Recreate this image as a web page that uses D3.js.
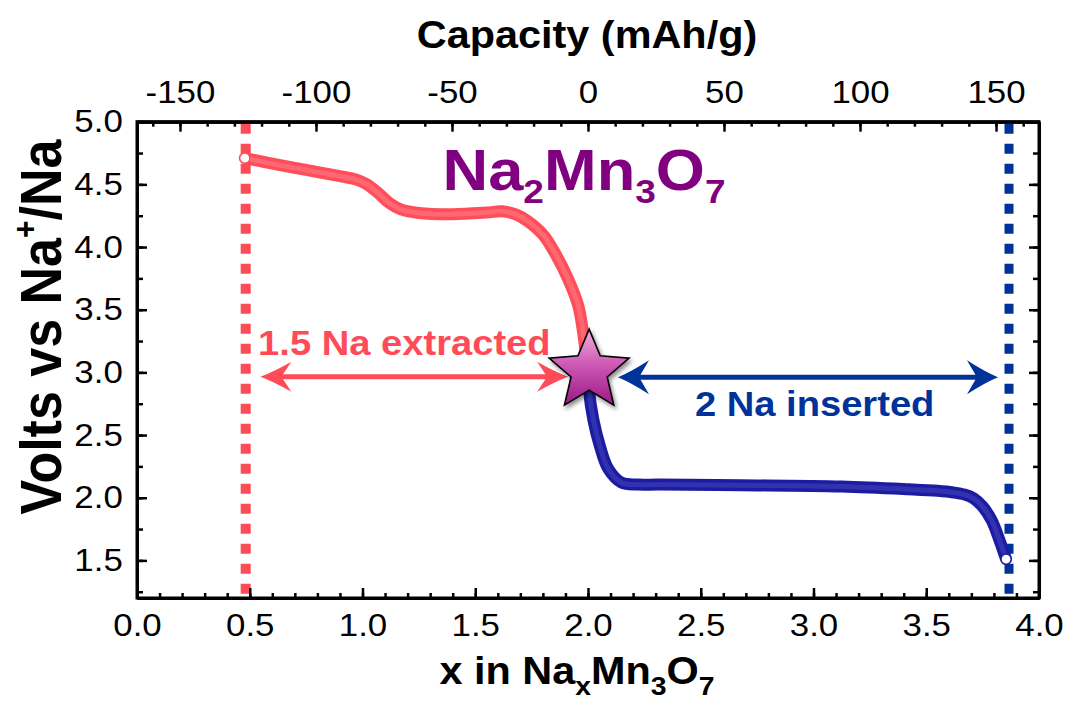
<!DOCTYPE html>
<html><head><meta charset="utf-8">
<script src="https://cdn.jsdelivr.net/npm/d3@7"></script>
<style>
body{margin:0;background:#fff;}
svg{display:block;font-family:"Liberation Sans",Arial,Helvetica,sans-serif;}
</style></head><body>
<svg id="chart" width="1066" height="702"></svg>
<script>
// ---------------- data ----------------
const chargeX = [0.478,0.6,0.75,0.9,0.97,1.02,1.07,1.12,1.17,1.25,1.4,1.55,1.62,1.68,1.73,1.8,1.854,1.913,1.957,1.979,1.992,2.0];
const chargeV = [4.71,4.665,4.615,4.565,4.54,4.50,4.43,4.35,4.30,4.272,4.262,4.275,4.285,4.26,4.21,4.10,3.95,3.74,3.53,3.31,3.12,3.0];
const dischargeX = [2.0,2.004,2.024,2.053,2.09,2.149,2.22,2.312,2.681,3.125,3.42,3.55,3.62,3.67,3.71,3.75,3.79,3.825,3.854];
const dischargeV = [3.0,2.86,2.62,2.41,2.23,2.12,2.105,2.105,2.10,2.09,2.068,2.055,2.042,2.025,1.995,1.93,1.82,1.66,1.51];

const xTickValues = [0,0.5,1,1.5,2,2.5,3,3.5,4];
const xTickLabels = ["0.0","0.5","1.0","1.5","2.0","2.5","3.0","3.5","4.0"];
const yTickValues = [1.5,2,2.5,3,3.5,4,4.5,5];
const yTickLabels = ["1.5","2.0","2.5","3.0","3.5","4.0","4.5","5.0"];
const capTickValues = [-150,-100,-50,0,50,100,150];
const capTickLabels = ["-150","-100","-50","0","50","100","150"];
const capPerNa = 82.9;           // mAh/g per Na (top axis: capacity = (x-2)*capPerNa)
const startLineX = 0.482;        // dotted limit (charge)
const endLineX = 3.867;          // dotted limit (discharge)
const starPoint = [2.005, 3.01];
const extractedArrow = [0.547, 1.912, 2.965];
const insertedArrow = [2.133, 3.818, 2.962];

// ---------------- layout ----------------
const L = 137, R = 1039, T = 121.7, B = 598;
const SX = 1.09; // horizontal text stretch of the original
const svg = d3.select("#chart");

const x = d3.scaleLinear([0,4],[L,R]);
const cap = d3.scaleLinear([-2*capPerNa, 2*capPerNa],[L,R]);
const y = d3.scaleLinear([1.2,5.0],[B,T]);

const RED = "#ff4a57", BLUE = "#003399", PURPLE = "#800080";

// defs
const defs = svg.append("defs");
const grad = defs.append("linearGradient").attr("id","starGrad").attr("x1",0).attr("y1",0).attr("x2",0).attr("y2",1);
grad.append("stop").attr("offset","0%").attr("stop-color","#f2b0e0");
grad.append("stop").attr("offset","45%").attr("stop-color","#cf5bb5");
grad.append("stop").attr("offset","100%").attr("stop-color","#9a1888");
const filt = defs.append("filter").attr("id","shadow").attr("x","-30%").attr("y","-30%").attr("width","160%").attr("height","160%");
filt.append("feDropShadow").attr("dx",2).attr("dy",3).attr("stdDeviation",2).attr("flood-color","#000").attr("flood-opacity",0.45);

// dotted limit lines
svg.append("line").attr("x1",x(startLineX)).attr("x2",x(startLineX)).attr("y1",y(5.0)).attr("y2",y(1.2))
  .attr("stroke",RED).attr("stroke-width",10).attr("stroke-dasharray","10,10").attr("stroke-dashoffset",-2);
svg.append("line").attr("x1",x(endLineX)).attr("x2",x(endLineX)).attr("y1",y(5.0)).attr("y2",y(1.2))
  .attr("stroke",BLUE).attr("stroke-width",9).attr("stroke-dasharray","10,10").attr("stroke-dashoffset",-2);

// curves
const line = d3.line().x(d=>x(d[0])).y(d=>y(d[1])).curve(d3.curveCatmullRom.alpha(0.5));
const charge = chargeX.map((v,i)=>[v,chargeV[i]]);
const discharge = dischargeX.map((v,i)=>[v,dischargeV[i]]);
function band(data, outer, inner){
  svg.append("path").datum(data).attr("d",line).attr("fill","none")
    .attr("stroke",outer).attr("stroke-width",12).attr("stroke-linecap","round").attr("stroke-linejoin","round");
  svg.append("path").datum(data).attr("d",line).attr("fill","none")
    .attr("stroke",inner).attr("stroke-width",5).attr("stroke-opacity",0.55).attr("stroke-linecap","round");
}
band(charge, "#ff4d5a", "#ff7d86");
band(discharge, "#1c1ca2", "#4545bb");

// endpoint markers
svg.append("circle").attr("cx",x(charge[0][0])).attr("cy",y(charge[0][1])).attr("r",5)
  .attr("fill","#fff").attr("stroke","#ff4d5a").attr("stroke-width",1.2);
const lastD = discharge[discharge.length-1];
svg.append("circle").attr("cx",x(lastD[0])).attr("cy",y(lastD[1])).attr("r",5)
  .attr("fill","#fff").attr("stroke","#1c1ca2").attr("stroke-width",1.2);

// double arrows
function headPath(tx, ty, dir, len, hw){
  const p = d3.path();
  p.moveTo(tx,ty);
  p.quadraticCurveTo(tx - dir*len*0.45, ty - hw*0.35, tx - dir*len, ty - hw);
  p.lineTo(tx - dir*len*0.68, ty);
  p.lineTo(tx - dir*len, ty + hw);
  p.quadraticCurveTo(tx - dir*len*0.45, ty + hw*0.35, tx, ty);
  p.closePath();
  return p.toString();
}
function doubleArrow(a, color, hw){
  const x1 = x(a[0]), x2 = x(a[1]), yy = y(a[2]);
  svg.append("line").attr("x1",x1+12).attr("x2",x2-12).attr("y1",yy).attr("y2",yy)
    .attr("stroke",color).attr("stroke-width",5);
  svg.append("path").attr("d",headPath(x1,yy,-1,31,hw)).attr("fill",color);
  svg.append("path").attr("d",headPath(x2,yy,1,31,hw)).attr("fill",color);
}
doubleArrow(extractedArrow, RED, 15);
doubleArrow(insertedArrow, BLUE, 17);

// stretched text helper
function stext(px, py, anchor, size, color, weight){
  const g = svg.append("g").attr("transform",`translate(${px},${py}) scale(${SX},1)`);
  return g.append("text").attr("text-anchor",anchor).attr("font-size",size)
    .attr("font-weight",weight||"bold").attr("fill",color);
}

// annotations
stext(x(0.537), y(3.14), "start", 35, RED).text("1.5 Na extracted");
stext(x(2.474), y(2.65), "start", 35, BLUE).text("2 Na inserted");
const title = stext(x(1.355), y(4.455), "start", 58, PURPLE);
title.append("tspan").text("Na");
title.append("tspan").attr("font-size",34).attr("dy",13).text("2");
title.append("tspan").attr("dy",-13).text("Mn");
title.append("tspan").attr("font-size",34).attr("dy",13).text("3");
title.append("tspan").attr("dy",-13).text("O");
title.append("tspan").attr("font-size",34).attr("dy",13).text("7");

// star
const starPts = d3.range(10).map(i=>[i*Math.PI/5, i%2===0 ? 42 : 19]);
svg.append("path")
  .attr("d", d3.lineRadial().curve(d3.curveLinearClosed)(starPts))
  .attr("transform",`translate(${x(starPoint[0])},${y(starPoint[1])})`)
  .attr("fill","url(#starGrad)").attr("stroke","#000").attr("stroke-width",1.6)
  .attr("stroke-linejoin","miter").attr("filter","url(#shadow)");

// ---------------- axes ----------------
function styleAxis(g, labels){
  g.select(".domain").attr("stroke","#000").attr("stroke-width",3);
  g.selectAll(".tick line").attr("stroke","#000").attr("stroke-width",2.5);
  g.selectAll(".tick text").attr("fill","#000").attr("font-size",32)
    .attr("font-family",'"Liberation Sans",Arial,Helvetica,sans-serif');
  if(labels) g.selectAll(".tick text").attr("transform",`scale(${SX},1)`);
}
const minorX = d3.range(0,41).map(i=>i/10);
const minorY = d3.range(0,16).map(i=>1.25+i*0.25);
const minorCap = d3.range(-16,17).map(i=>i*10);

// bottom
svg.append("g").attr("transform",`translate(0,${B})`)
  .call(d3.axisBottom(x).tickValues(minorX).tickFormat("").tickSizeInner(-5).tickSizeOuter(0)).call(g=>styleAxis(g));
svg.append("g").attr("transform",`translate(0,${B})`)
  .call(d3.axisBottom(x).tickValues(xTickValues).tickFormat((d,i)=>xTickLabels[i]).tickSizeInner(-10).tickSizeOuter(0).tickPadding(15))
  .call(g=>styleAxis(g,true));
// top (capacity)
svg.append("g").attr("transform",`translate(0,${T})`)
  .call(d3.axisTop(cap).tickValues(minorCap).tickFormat("").tickSizeInner(-5).tickSizeOuter(0)).call(g=>styleAxis(g));
svg.append("g").attr("transform",`translate(0,${T})`)
  .call(d3.axisTop(cap).tickValues(capTickValues).tickFormat((d,i)=>capTickLabels[i]).tickSizeInner(-10).tickSizeOuter(0).tickPadding(19))
  .call(g=>styleAxis(g,true));
// left
svg.append("g").attr("transform",`translate(${L},0)`)
  .call(d3.axisLeft(y).tickValues(minorY).tickFormat("").tickSizeInner(-6).tickSizeOuter(0)).call(g=>styleAxis(g));
svg.append("g").attr("transform",`translate(${L},0)`)
  .call(d3.axisLeft(y).tickValues(yTickValues).tickFormat((d,i)=>yTickLabels[i]).tickSizeInner(-10).tickSizeOuter(0).tickPadding(13))
  .call(g=>styleAxis(g,true));
// right
svg.append("g").attr("transform",`translate(${R},0)`)
  .call(d3.axisRight(y).tickValues(minorY).tickFormat("").tickSizeInner(-6).tickSizeOuter(0)).call(g=>styleAxis(g));
svg.append("g").attr("transform",`translate(${R},0)`)
  .call(d3.axisRight(y).tickValues(yTickValues).tickFormat("").tickSizeInner(-10).tickSizeOuter(0)).call(g=>styleAxis(g));

svg.append("rect").attr("x",L).attr("y",T).attr("width",R-L).attr("height",B-T)
  .attr("fill","none").attr("stroke","#000").attr("stroke-width",3);

// axis titles
stext(587, 48, "middle", 38, "#000").text("Capacity (mAh/g)");
const xt = stext(577, 684, "middle", 38, "#000");
xt.append("tspan").text("x in Na");
xt.append("tspan").attr("font-size",26).attr("dy",11).text("x");
xt.append("tspan").attr("dy",-11).text("Mn");
xt.append("tspan").attr("font-size",26).attr("dy",11).text("3");
xt.append("tspan").attr("dy",-11).text("O");
xt.append("tspan").attr("font-size",26).attr("dy",11).text("7");

const yl = svg.append("g").attr("transform",`translate(61,327) scale(${SX},1) rotate(-90)`)
  .append("text").attr("text-anchor","middle").attr("font-size",52).attr("font-weight","bold").attr("fill","#000");
yl.append("tspan").text("Volts vs Na");
yl.append("tspan").attr("font-size",30).attr("dy",-22).text("+");
yl.append("tspan").attr("dy",22).text("/Na");
</script>
</body></html>
